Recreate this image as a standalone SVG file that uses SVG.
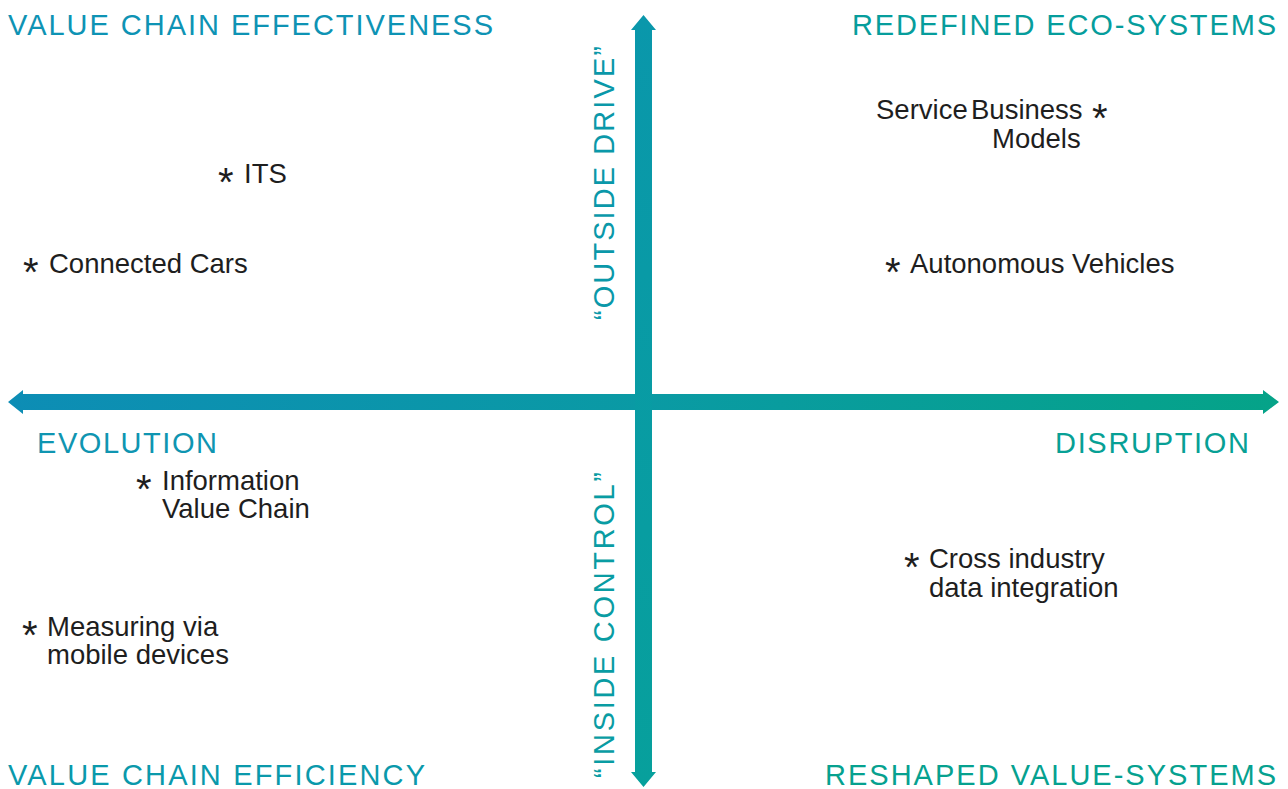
<svg xmlns="http://www.w3.org/2000/svg" width="1288" height="789" viewBox="0 0 1288 789">
<defs>
<linearGradient id="hg" x1="0" y1="0" x2="1" y2="0">
<stop offset="0" stop-color="#0d8db5"/>
<stop offset="0.5" stop-color="#0a9aa4"/>
<stop offset="1" stop-color="#05a388"/>
</linearGradient>
<linearGradient id="vg" x1="0" y1="0" x2="0" y2="1">
<stop offset="0" stop-color="#0a97ab"/>
<stop offset="1" stop-color="#07a09c"/>
</linearGradient>
</defs>
<style>
.t{font-family:"Liberation Sans",Arial,sans-serif;font-size:29px;letter-spacing:2px}
.i{font-family:"Liberation Sans",Arial,sans-serif;font-size:27.5px;fill:#1e1e1e}
.s{font-family:"Liberation Sans",Arial,sans-serif;font-size:40px;fill:#1e1e1e}
</style>
<rect width="1288" height="789" fill="#ffffff"/>
<g id="connectors">
<polygon fill="url(#hg)" points="8,402 23,390 23,394 1263,394 1263,390 1279,402 1263,414 1263,410 23,410 23,414"/>
<polygon fill="url(#vg)" points="643.5,15 656,30 652,30 652,772 656,772 643.5,787 631,772 635,772 635,30 631,30"/>
</g>
<g id="title-tl"><text class="t" x="8" y="35" fill="#0e93b4" textLength="487" lengthAdjust="spacing">VALUE CHAIN EFFECTIVENESS</text></g>
<g id="title-tr"><text class="t" x="852" y="35" fill="#069d9c" textLength="426" lengthAdjust="spacing">REDEFINED ECO-SYSTEMS</text></g>
<g id="title-bl"><text class="t" x="8" y="785" fill="#0a99ab" textLength="419" lengthAdjust="spacing">VALUE CHAIN EFFICIENCY</text></g>
<g id="title-br"><text class="t" x="825" y="785" fill="#06a18f" textLength="453" lengthAdjust="spacing">RESHAPED VALUE-SYSTEMS</text></g>
<g id="evolution"><text class="t" x="37" y="453" fill="#0f95b1" textLength="182" lengthAdjust="spacing">EVOLUTION</text></g>
<g id="disruption"><text class="t" x="1055" y="453" fill="#07a095" textLength="196" lengthAdjust="spacing">DISRUPTION</text></g>
<g id="outside-drive"><text class="t" transform="translate(614,320) rotate(-90)" x="0" y="0" fill="#0a98a9" textLength="276" lengthAdjust="spacing">“OUTSIDE DRIVE”</text></g>
<g id="inside-control"><text class="t" transform="translate(614,778) rotate(-90)" x="0" y="0" fill="#099ca3" textLength="308" lengthAdjust="spacing">“INSIDE CONTROL”</text></g>
<g id="its"><text class="s" x="218" y="196">*</text><text class="i" x="244" y="183">ITS</text></g>
<g id="connected-cars"><text class="s" x="23" y="286">*</text><text class="i" x="49" y="273">Connected Cars</text></g>
<g id="service-business"><text class="i" x="876" y="119">Service<tspan x="971">Business</tspan></text><text class="s" x="1092" y="132">*</text><text class="i" x="992" y="148">Models</text></g>
<g id="autonomous"><text class="s" x="885" y="286">*</text><text class="i" x="910" y="273">Autonomous Vehicles</text></g>
<g id="information"><text class="s" x="136" y="503">*</text><text class="i" x="162" y="490">Information</text><text class="i" x="162" y="518">Value Chain</text></g>
<g id="cross-industry"><text class="s" x="904" y="581">*</text><text class="i" x="929" y="568">Cross industry</text><text class="i" x="929" y="597">data integration</text></g>
<g id="measuring"><text class="s" x="22" y="649">*</text><text class="i" x="47" y="636">Measuring via</text><text class="i" x="47" y="664">mobile devices</text></g>
</svg>
